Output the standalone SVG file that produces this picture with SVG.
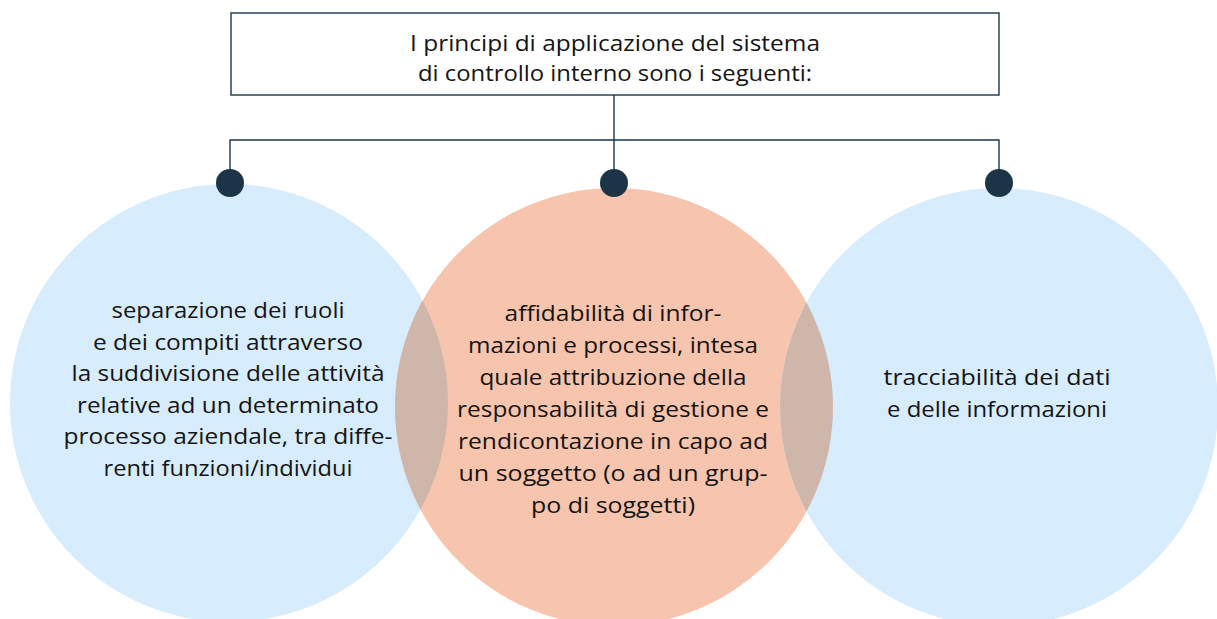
<svg xmlns="http://www.w3.org/2000/svg" width="1217" height="619" viewBox="0 0 1217 619">
<style>
.t{font-family:"Open Sans","Liberation Sans",sans-serif;font-size:21px;fill:#141414;text-anchor:middle}
.blue{fill:#d7ecfc}
.peach{fill:#f7c5ae}
.lens{fill:#cfb6ab}
.dot{fill:#1b3547}
.ln{stroke:#1b3547;stroke-width:1.4;fill:none}
</style>
<defs>
<clipPath id="clipL"><circle cx="229" cy="403" r="219"/></clipPath>
<clipPath id="clipR"><circle cx="999" cy="407" r="219"/></clipPath>
</defs>
<rect width="1217" height="619" fill="#ffffff"/>
<g id="connectors">
<line class="ln" x1="614" y1="95" x2="614" y2="140"/>
<polyline class="ln" points="230,183 230,140 999,140 999,183"/>
<line class="ln" x1="614" y1="140" x2="614" y2="183"/>
</g>
<g id="node-top">
<rect x="231" y="13" width="768" height="82" fill="#ffffff" stroke="#1b3547" stroke-width="1.4"/>
<text class="t" x="615" y="51" textLength="410" lengthAdjust="spacingAndGlyphs">I principi di applicazione del sistema</text>
<text class="t" x="615" y="81" textLength="394" lengthAdjust="spacingAndGlyphs">di controllo interno sono i seguenti:</text>
</g>
<g id="node-left">
<circle class="blue" cx="229" cy="403" r="219"/>
</g>
<g id="node-center">
<circle class="peach" cx="614" cy="407" r="219"/>
</g>
<g id="node-right">
<circle class="blue" cx="999" cy="407" r="219"/>
</g>
<g id="overlaps">
<circle class="lens" cx="614" cy="407" r="219" clip-path="url(#clipL)"/>
<circle class="lens" cx="614" cy="407" r="219" clip-path="url(#clipR)"/>
</g>
<g id="dots">
<circle class="dot" cx="230" cy="183" r="14"/>
<circle class="dot" cx="614" cy="183" r="14"/>
<circle class="dot" cx="999" cy="183" r="14"/>
</g>
<g id="label-left">
<text class="t" x="228" y="318" textLength="233" lengthAdjust="spacingAndGlyphs">separazione dei ruoli</text>
<text class="t" x="228" y="350" textLength="270" lengthAdjust="spacingAndGlyphs">e dei compiti attraverso</text>
<text class="t" x="228" y="381" textLength="313" lengthAdjust="spacingAndGlyphs">la suddivisione delle attività</text>
<text class="t" x="228" y="413" textLength="302" lengthAdjust="spacingAndGlyphs">relative ad un determinato</text>
<text class="t" x="228" y="444" textLength="329" lengthAdjust="spacingAndGlyphs">processo aziendale, tra diffe-</text>
<text class="t" x="228" y="476" textLength="249" lengthAdjust="spacingAndGlyphs">renti funzioni/individui</text>
</g>
<g id="label-center">
<text class="t" x="613" y="321" textLength="217" lengthAdjust="spacingAndGlyphs">affidabilità di infor-</text>
<text class="t" x="613" y="353" textLength="290" lengthAdjust="spacingAndGlyphs">mazioni e processi, intesa</text>
<text class="t" x="613" y="385" textLength="267" lengthAdjust="spacingAndGlyphs">quale attribuzione della</text>
<text class="t" x="613" y="417" textLength="312" lengthAdjust="spacingAndGlyphs">responsabilità di gestione e</text>
<text class="t" x="613" y="449" textLength="310" lengthAdjust="spacingAndGlyphs">rendicontazione in capo ad</text>
<text class="t" x="613" y="481" textLength="309" lengthAdjust="spacingAndGlyphs">un soggetto (o ad un grup-</text>
<text class="t" x="613" y="513" textLength="164" lengthAdjust="spacingAndGlyphs">po di soggetti)</text>
</g>
<g id="label-right">
<text class="t" x="997" y="385" textLength="227" lengthAdjust="spacingAndGlyphs">tracciabilità dei dati</text>
<text class="t" x="997" y="417" textLength="220" lengthAdjust="spacingAndGlyphs">e delle informazioni</text>
</g>
</svg>
